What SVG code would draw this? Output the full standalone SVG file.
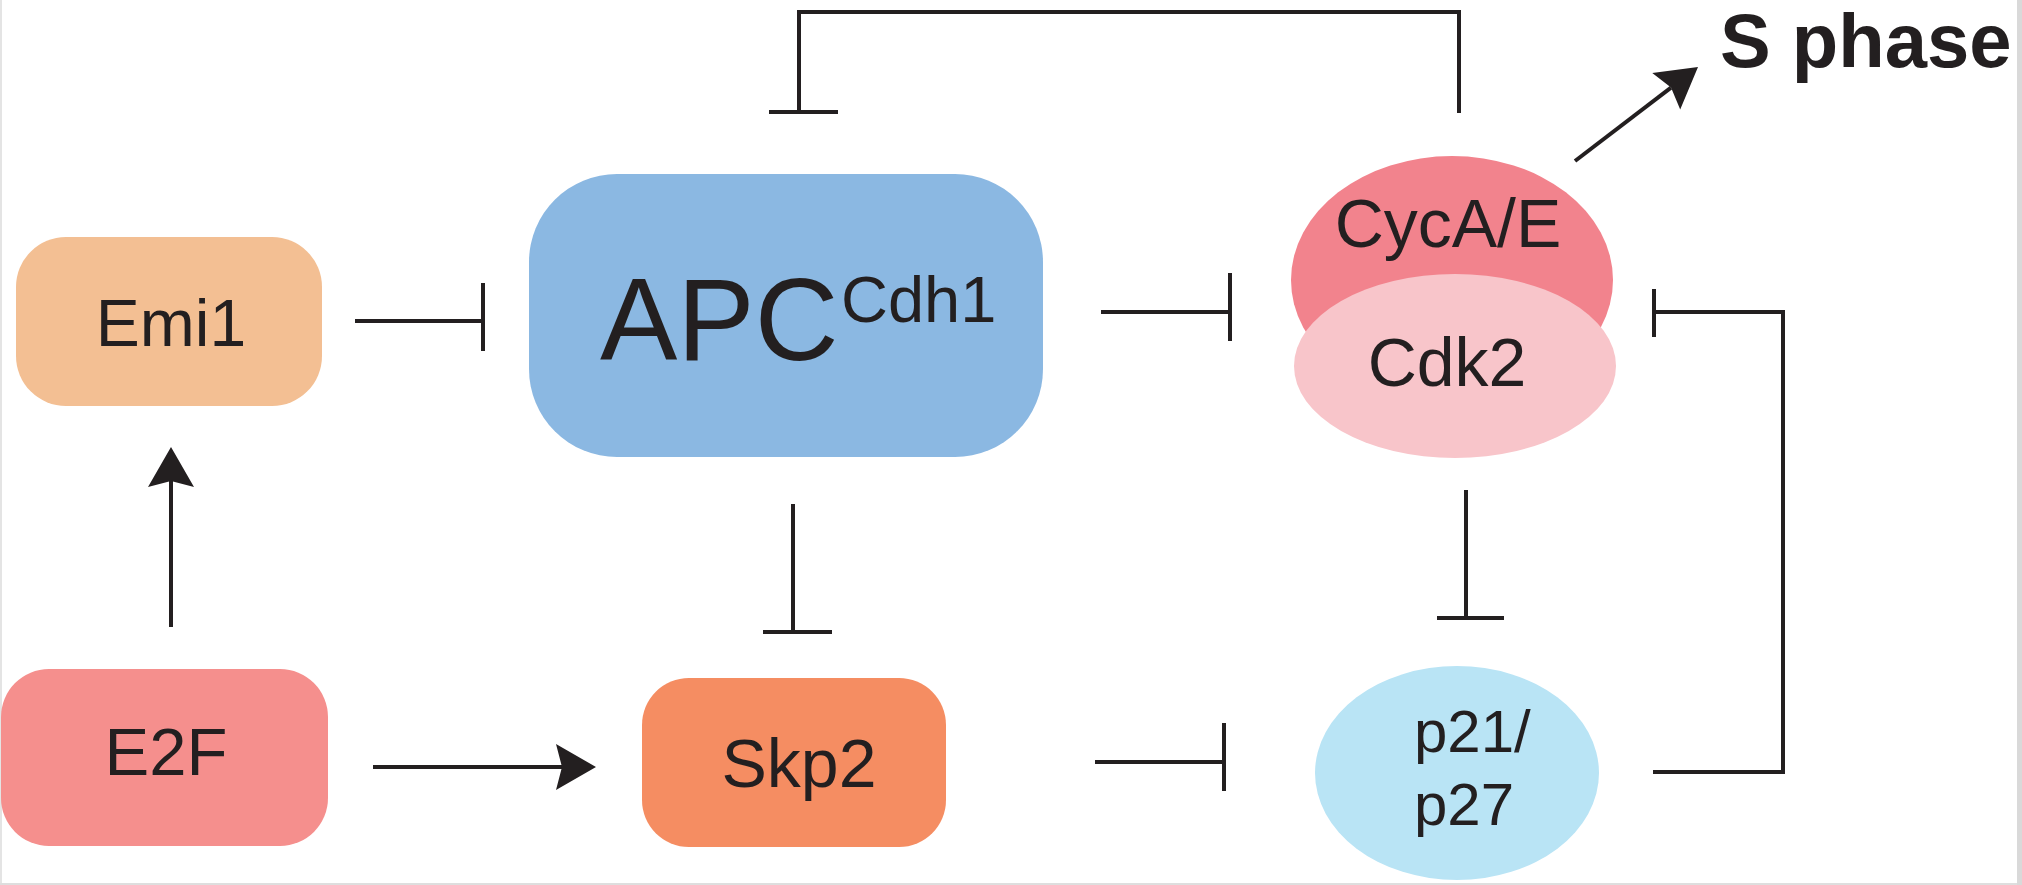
<svg xmlns="http://www.w3.org/2000/svg" width="2022" height="885" viewBox="0 0 2022 885">
<style>
.lbl{font-family:"Liberation Sans",Arial,sans-serif;fill:#231F20;}
.ln{fill:none;stroke:#231F20;stroke-width:4;stroke-linecap:butt;stroke-linejoin:miter;}
.bar{fill:none;stroke:#231F20;stroke-width:4;}
</style>
<defs>
<marker id="arr" viewBox="-9 -24 45 48" refX="0" refY="0" markerWidth="45" markerHeight="48" markerUnits="userSpaceOnUse" orient="auto">
<path d="M34,0 L-6,-23 L0,0 L-6,23 Z" fill="#231F20"/>
</marker>
</defs>
<rect x="0" y="0" width="2022" height="885" fill="#FFFFFF"/>
<rect x="0" y="0" width="2" height="885" fill="#E4E4E4"/>
<rect x="0" y="883" width="2022" height="2" fill="#DEDEDE"/>
<rect x="2017" y="0" width="5" height="885" fill="#D9D9D9"/>

<g id="connectors">
<path class="ln" d="M1459,113 V12 H799 V112"/>
<line class="bar" x1="769" y1="112" x2="838" y2="112"/>
<line class="ln" x1="355" y1="321" x2="483" y2="321"/>
<line class="bar" x1="483" y1="283" x2="483" y2="351"/>
<line class="ln" x1="1101" y1="312" x2="1230" y2="312"/>
<line class="bar" x1="1230" y1="273" x2="1230" y2="341"/>
<path class="ln" d="M1653,772 H1783 V312 H1654"/>
<line class="bar" x1="1654" y1="289" x2="1654" y2="337"/>
<line class="ln" x1="793" y1="504" x2="793" y2="632"/>
<line class="bar" x1="763" y1="632" x2="832" y2="632"/>
<line class="ln" x1="1466" y1="490" x2="1466" y2="618"/>
<line class="bar" x1="1437" y1="618" x2="1504" y2="618"/>
<line class="ln" x1="1095" y1="762" x2="1224" y2="762"/>
<line class="bar" x1="1224" y1="723" x2="1224" y2="791"/>
<line class="ln" x1="171" y1="627" x2="171" y2="481" marker-end="url(#arr)"/>
<line class="ln" x1="373" y1="767" x2="562" y2="767" marker-end="url(#arr)"/>
<line class="ln" x1="1575" y1="161" x2="1671" y2="87.6" marker-end="url(#arr)"/>
</g>

<g id="emi1">
<rect x="16" y="237" width="306" height="169" rx="50" ry="50" fill="#F3BF93"/>
<text class="lbl" x="171" y="346" font-size="66" text-anchor="middle">Emi1</text>
</g>
<g id="apc">
<rect x="529" y="174" width="514" height="283" rx="88" ry="88" fill="#8BB8E2"/>
<text class="lbl" x="600" y="360" font-size="116">APC</text>
<text class="lbl" x="841" y="322" font-size="65">Cdh1</text>
</g>
<g id="cyca">
<ellipse cx="1452" cy="280" rx="161" ry="124" fill="#F2838D"/>
<text class="lbl" x="1448" y="247" font-size="68" text-anchor="middle">CycA/E</text>
</g>
<g id="cdk2">
<ellipse cx="1455" cy="366" rx="161" ry="92" fill="#F8C5CA"/>
<text class="lbl" x="1447" y="386" font-size="68" text-anchor="middle">Cdk2</text>
</g>
<g id="e2f">
<rect x="1" y="669" width="327" height="177" rx="48" ry="48" fill="#F58F8D"/>
<text class="lbl" x="166" y="775" font-size="67" text-anchor="middle">E2F</text>
</g>
<g id="skp2">
<rect x="642" y="678" width="304" height="169" rx="47" ry="47" fill="#F58D62"/>
<text class="lbl" x="799" y="787" font-size="68" text-anchor="middle">Skp2</text>
</g>
<g id="p21">
<ellipse cx="1457" cy="773" rx="142" ry="107" fill="#B9E4F5"/>
<text class="lbl" x="1414" y="752" font-size="60">p21/</text>
<text class="lbl" x="1414" y="825" font-size="60">p27</text>
</g>
<g id="sphase">
<text class="lbl" x="1720" y="67" font-size="76" font-weight="bold">S phase</text>
</g>
</svg>
